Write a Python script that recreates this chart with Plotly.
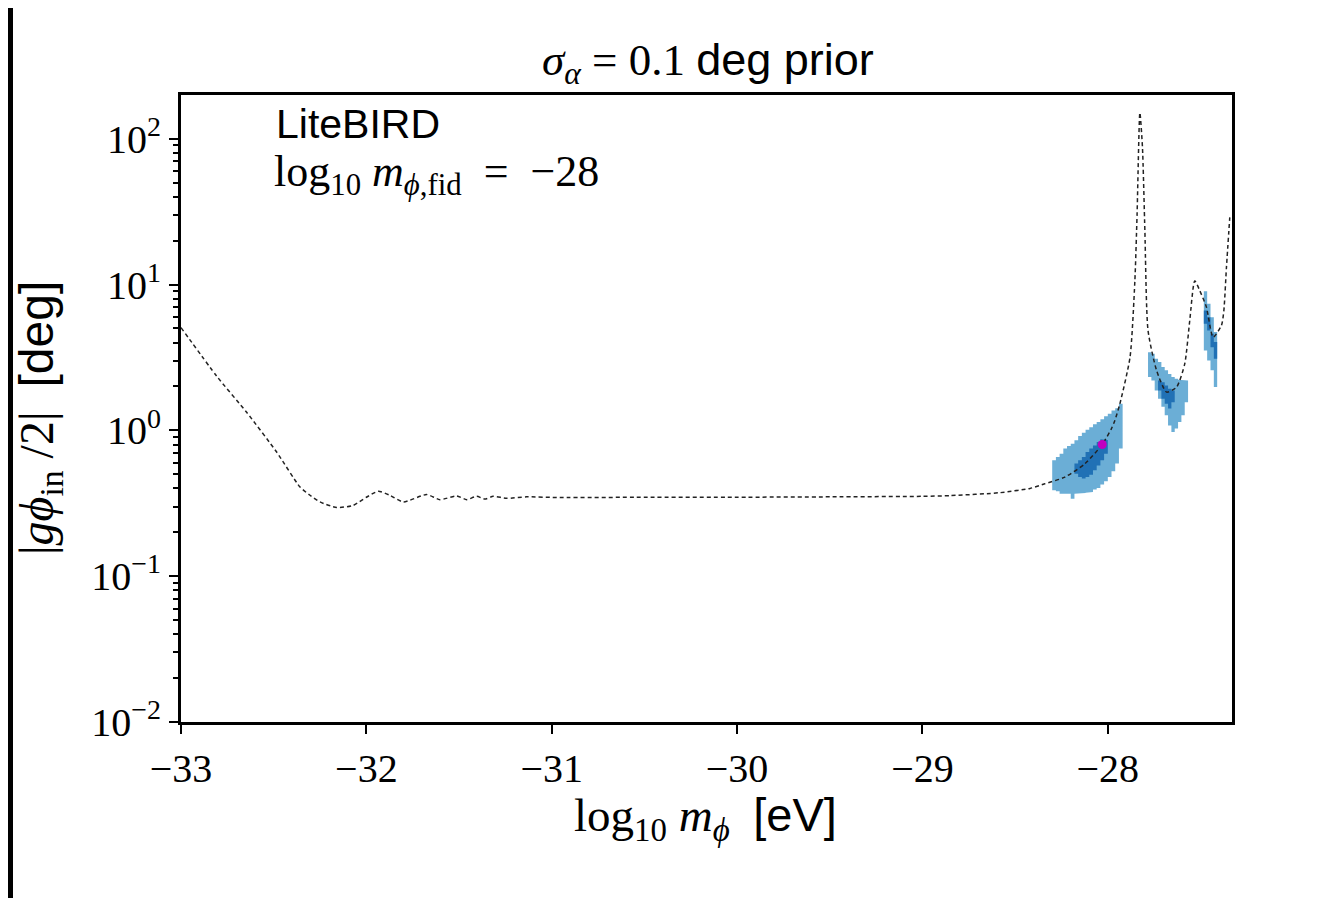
import plotly.graph_objects as go

# ---------------- data ----------------
curve_x = [-33.0, -32.807, -32.646, -32.484, -32.358, -32.304, -32.25, -32.16, -32.071, -31.998,
           -31.936, -31.873, -31.801, -31.675, -31.603, -31.513, -31.459, -31.405, -31.36, -31.316,
           -31.243, -31.135, -30.956, -30.5, -30.0, -29.5, -29.0, -28.85, -28.58, -28.42,
           -28.34, -28.232, -28.124, -28.03, -27.98, -27.962, -27.935, -27.88, -27.854, -27.842,
           -27.827, -27.813, -27.80, -27.783, -27.737, -27.683, -27.629, -27.585, -27.558, -27.531,
           -27.504, -27.468, -27.432, -27.387, -27.374, -27.36, -27.342]
curve_y = [5.07, 2.35, 1.33, 0.71, 0.409, 0.359, 0.323, 0.296, 0.306, 0.349,
           0.382, 0.359, 0.323, 0.363, 0.335, 0.355, 0.335, 0.353, 0.338, 0.353,
           0.342, 0.350, 0.346, 0.348, 0.348, 0.350, 0.353, 0.357, 0.374, 0.40,
           0.43, 0.478, 0.59, 0.80, 1.03, 1.17, 1.52, 3.18, 10.6, 30.5,
           151.0, 87.0, 23.4, 4.84, 2.58, 1.83, 1.98, 2.86, 5.66, 10.6,
           9.1, 7.0, 4.35, 5.24, 6.6, 13.1, 28.9]

# posterior regions: column centres with upper / lower bounds (deg)
blob1_x = [-28.29, -28.27, -28.25, -28.23, -28.21, -28.19, -28.17, -28.15, -28.13, -28.11,
           -28.09, -28.07, -28.05, -28.03, -28.01, -27.99, -27.97, -27.95, -27.93]
blob1_95_hi = [0.624, 0.656, 0.692, 0.750, 0.782, 0.811, 0.855, 0.914, 0.964, 1.01,
               1.05, 1.10, 1.14, 1.19, 1.25, 1.30, 1.37, 1.42, 1.52]
blob1_95_lo = [0.388, 0.382, 0.368, 0.368, 0.368, 0.340, 0.368, 0.368, 0.372, 0.374,
               0.378, 0.393, 0.403, 0.425, 0.448, 0.479, 0.524, 0.592, 0.750]
blob1_68_x = [-28.17, -28.15, -28.13, -28.11, -28.09, -28.07, -28.05, -28.03, -28.01]
blob1_68_hi = [0.592, 0.624, 0.656, 0.710, 0.750, 0.789, 0.832, 0.870, 0.860]
blob1_68_lo = [0.505, 0.479, 0.467, 0.479, 0.497, 0.532, 0.575, 0.624, 0.692]

blob2_x = [-27.774, -27.756, -27.738, -27.720, -27.702, -27.684, -27.666, -27.648, -27.630,
           -27.612, -27.594, -27.576]
blob2_95_hi = [3.44, 3.35, 3.10, 2.94, 2.72, 2.58, 2.44, 2.32, 2.26, 2.22, 2.20, 2.20]
blob2_95_lo = [2.32, 2.20, 1.88, 1.65, 1.45, 1.27, 1.08, 0.975, 1.03, 1.14, 1.27, 1.56]
blob2_68_x = [-27.720, -27.702, -27.684, -27.666, -27.648]
blob2_68_hi = [2.20, 2.14, 2.03, 1.93, 1.88]
blob2_68_lo = [1.88, 1.65, 1.52, 1.41, 1.56]

blob3_x = [-27.473, -27.455, -27.437, -27.419]
blob3_95_hi = [9.0, 7.38, 5.97, 4.72]
blob3_95_lo = [3.53, 3.01, 2.58, 1.98]
blob3_68_x = [-27.473, -27.455, -27.437, -27.419]
blob3_68_hi = [6.64, 5.97, 4.59, 4.03]
blob3_68_lo = [5.38, 4.84, 3.72, 3.10]

fid_x = [-28.03]
fid_y = [0.80]

x_ticks = [-33, -32, -31, -30, -29, -28]
x_ticktext = ["\u221233", "\u221232", "\u221231", "\u221230", "\u221229", "\u221228"]
y_ticks = [0.01, 0.1, 1, 10, 100]
y_ticktext = ["10<sup>\u22122</sup>", "10<sup>\u22121</sup>", "10<sup>0</sup>",
              "10<sup>1</sup>", "10<sup>2</sup>"]

# ---------------- styling ----------------
LIGHT = "#6baed6"
DARK = "#2171b5"
SERIF = "Liberation Serif"
SANS = "Liberation Sans"

PAGE_W, PAGE_H = 1341, 898
BODY = 8                          # default page margin around the plot div
L, R, T, B = 181, 1232, 95, 722   # plot area in page pixels


def stair_polygon(xc, hi, lo):
    n = len(xc)
    w = (xc[-1] - xc[0]) / (n - 1) if n > 1 else 0.018
    xs, ys = [], []
    for c, h in zip(xc, hi):
        xs += [c - w / 2, c + w / 2]
        ys += [h, h]
    for c, l in zip(reversed(xc), reversed(lo)):
        xs += [c + w / 2, c - w / 2]
        ys += [l, l]
    xs.append(xs[0])
    ys.append(ys[0])
    return xs, ys


fig = go.Figure()
for xc, hi, lo, col in [
    (blob1_x, blob1_95_hi, blob1_95_lo, LIGHT),
    (blob2_x, blob2_95_hi, blob2_95_lo, LIGHT),
    (blob3_x, blob3_95_hi, blob3_95_lo, LIGHT),
    (blob1_68_x, blob1_68_hi, blob1_68_lo, DARK),
    (blob2_68_x, blob2_68_hi, blob2_68_lo, DARK),
    (blob3_68_x, blob3_68_hi, blob3_68_lo, DARK),
]:
    px, py = stair_polygon(xc, hi, lo)
    fig.add_trace(go.Scatter(x=px, y=py, mode="lines", fill="toself", fillcolor=col,
                             line=dict(width=0, color=col), hoverinfo="skip", showlegend=False))

fig.add_trace(go.Scatter(x=curve_x, y=curve_y, mode="lines",
                         line=dict(color="#222222", width=1.5, dash="4px,3px", shape="spline",
                                   smoothing=0.6),
                         showlegend=False))
fig.add_trace(go.Scatter(x=fid_x, y=fid_y, mode="markers",
                         marker=dict(color="#c000c0", size=9, symbol="circle"),
                         showlegend=False))

minor_vals = [m * 10 ** e for e in range(-2, 3) for m in range(2, 10)]

fig.update_layout(
    width=PAGE_W - BODY, height=PAGE_H - BODY,
    margin=dict(l=L - BODY, r=PAGE_W - R, t=T - BODY, b=PAGE_H - B, pad=0),
    paper_bgcolor="white", plot_bgcolor="white",
    showlegend=False,
    xaxis=dict(range=[-33, -27.33], tickmode="array", tickvals=x_ticks, ticktext=x_ticktext,
               ticks="outside", ticklen=9, tickwidth=2, tickcolor="black",
               showline=True, linewidth=3, linecolor="black", mirror=True,
               showgrid=False, zeroline=False,
               tickfont=dict(family=SERIF, size=40, color="black")),
    yaxis=dict(type="log", range=[-2, 2.3], tickmode="array", tickvals=y_ticks, ticktext=y_ticktext,
               ticks="outside", ticklen=9, tickwidth=2, tickcolor="black",
               showline=True, linewidth=3, linecolor="black", mirror=True,
               showgrid=False, zeroline=False,
               minor=dict(tickmode="array", tickvals=minor_vals, ticks="outside",
                          ticklen=5, tickwidth=1.5, tickcolor="black", showgrid=False),
               tickfont=dict(family=SERIF, size=40, color="black")),
)


def px2paper_x(p):
    return (p - L) / (R - L)


def px2paper_y(p):
    return (B - p) / (B - T)


NB = "\u00a0"
ann = [
    dict(text="<i>\u03c3</i><sub><i>\u03b1</i></sub>" + NB + "=" + NB + "0.1 <span style='font-family:Liberation Sans'>deg prior</span>",
         x=px2paper_x(708), y=px2paper_y(62), font=dict(family=SERIF, size=45)),
    dict(text="log<sub>10</sub>" + NB + "<i>m</i><sub><i>\u03d5</i></sub>" + NB + NB + "<span style='font-family:Liberation Sans'>[eV]</span>",
         x=px2paper_x(705), y=px2paper_y(818), font=dict(family=SERIF, size=47)),
    dict(text="|<i>g\u03d5</i><sub>in</sub>" + NB + "/2|" + NB + NB + "<span style='font-family:Liberation Sans'>[deg]</span>",
         x=px2paper_x(40), y=px2paper_y(418), textangle=-90, font=dict(family=SERIF, size=48)),
    dict(text="LiteBIRD", x=px2paper_x(274), y=px2paper_y(124), xanchor="left",
         font=dict(family=SANS, size=41)),
    dict(text="log<sub>10</sub>" + NB + "<i>m</i><sub><i>\u03d5</i>,fid</sub>" + NB + NB + "=" + NB + NB + "\u221228",
         x=px2paper_x(272), y=px2paper_y(174), xanchor="left", font=dict(family=SERIF, size=44)),
]
for a in ann:
    a.setdefault("xanchor", "center")
    fig.add_annotation(xref="paper", yref="paper", showarrow=False, yanchor="middle",
                       font_color="black", **a)

# black frame strip at the left of the image
fig.add_shape(type="rect", xref="paper", yref="paper", x0=px2paper_x(BODY), x1=px2paper_x(13),
              y0=px2paper_y(PAGE_H), y1=px2paper_y(BODY), fillcolor="black", line_width=0,
              layer="above")

fig.write_html("out.html")
